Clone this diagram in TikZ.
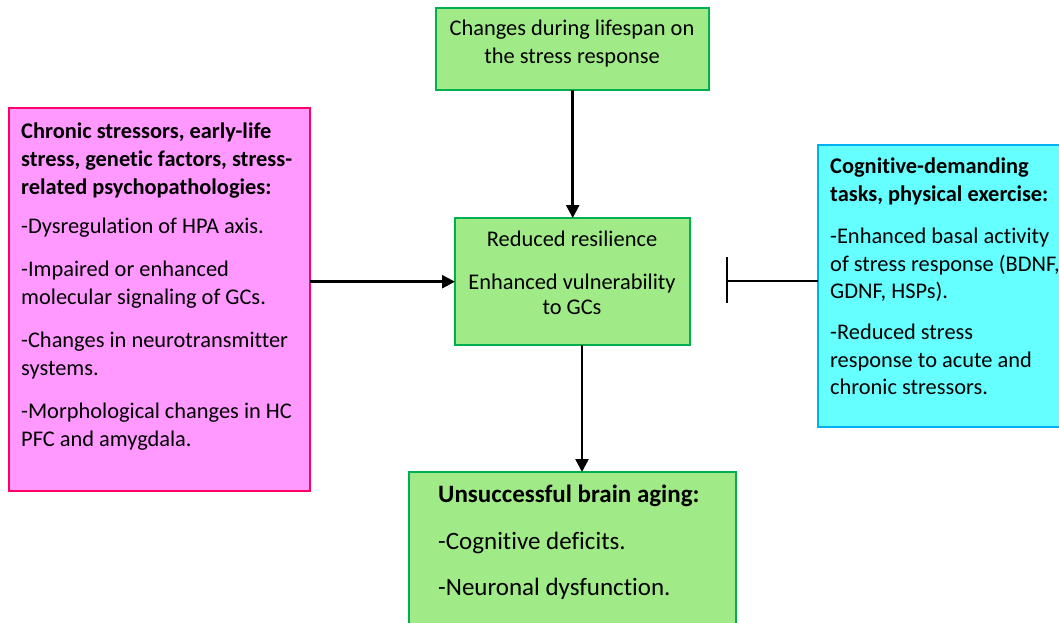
\documentclass[tikz,border=0pt]{standalone}
\usepackage{fontspec}
\setmainfont{Carlito}[Ligatures={NoCommon}]
\usetikzlibrary{arrows.meta}
\definecolor{gfill}{HTML}{A0EB88}
\definecolor{gline}{HTML}{00B050}
\definecolor{pfill}{HTML}{FF99FF}
\definecolor{pline}{HTML}{FF0066}
\definecolor{cfill}{HTML}{66FFFF}
\definecolor{cline}{HTML}{00B0F0}
\tikzset{
  gbox/.style={draw=gline,fill=gfill,line width=2pt},
  pbox/.style={draw=pline,fill=pfill,line width=2pt},
  cbox/.style={draw=cline,fill=cfill,line width=2pt},
  txt/.style={inner sep=0pt,font=\fontsize{22.4}{28}\selectfont,text=black},
  ctxt/.style={inner sep=0pt,font=\fontsize{22.4}{27.2}\selectfont,text=black},
  bigtxt/.style={inner sep=0pt,font=\fontsize{25}{31}\selectfont,text=black},
  conn/.style={line width=2.5pt,-{Triangle[length=13pt,width=13pt]}},
  inh/.style={line width=2.5pt}
}
\begin{document}
\begin{tikzpicture}[x=1pt,y=-1pt]
\useasboundingbox (0,0) rectangle (1059,623);
% boxes
\draw[gbox] (436,8) rectangle (709,90);
\node[minimum width=273pt,minimum height=82pt,anchor=north west,inner sep=0pt] (top) at (436,8) {};
\draw[pbox] (9,108) rectangle (310,491);
\node[minimum width=301pt,minimum height=383pt,anchor=north west,inner sep=0pt] (pink) at (9,108) {};
\draw[gbox] (455,218) rectangle (690,345);
\node[minimum width=235pt,minimum height=127pt,anchor=north west,inner sep=0pt] (mid) at (455,218) {};
\draw[cbox] (818,145) rectangle (1065,427);
\node[minimum width=247pt,minimum height=282pt,anchor=north west,inner sep=0pt] (cyan) at (818,145) {};
\draw[gbox] (409,472) rectangle (736,630);
\node[minimum width=327pt,minimum height=158pt,anchor=north west,inner sep=0pt] (bot) at (409,472) {};
% texts
\node[txt,align=center,anchor=north] (ttop) at (572,20) {Changes during lifespan on\\the stress response};
\node[txt,align=left,anchor=north west] (tpink) at (21,123) {\textbf{Chronic stressors, early-life}\\\textbf{stress, genetic factors, stress-}\\\textbf{related psychopathologies:}\\[11pt]-Dysregulation of HPA axis.\\[15pt]-Impaired or enhanced\\molecular signaling of GCs.\\[15pt]-Changes in neurotransmitter\\systems.\\[15pt]-Morphological changes in HC\\PFC and amygdala.};
\node[txt,align=center,anchor=north] (tmid) at (572,231) {Reduced resilience\\[15pt]Enhanced vulnerability\\[-3pt]to GCs};
\node[ctxt,align=left,anchor=north west] (tcyan) at (830,158) {\textbf{Cognitive-demanding}\\\textbf{tasks, physical exercise:}\\[15.5pt]-Enhanced basal activity\\of stress response (BDNF,\\GDNF, HSPs).\\[14.5pt]-Reduced stress\\response to acute and\\chronic stressors.};
\node[bigtxt,align=left,anchor=north west] (tbot) at (438,485) {\textbf{Unsuccessful brain aging:}\\[15.5pt]-Cognitive deficits.\\[15.5pt]-Neuronal dysfunction.};
% connectors
\draw[conn] (top.south) -- (mid.north);
\draw[conn] (pink.east |- mid.west) -- (mid.west);
\draw[conn] (582,345) -- (582,472);
\coordinate (bar) at (727,281);
\draw[inh] (cyan.west |- bar) -- (bar);
\draw[inh] (727,257) -- (727,303);
\end{tikzpicture}
\end{document}
